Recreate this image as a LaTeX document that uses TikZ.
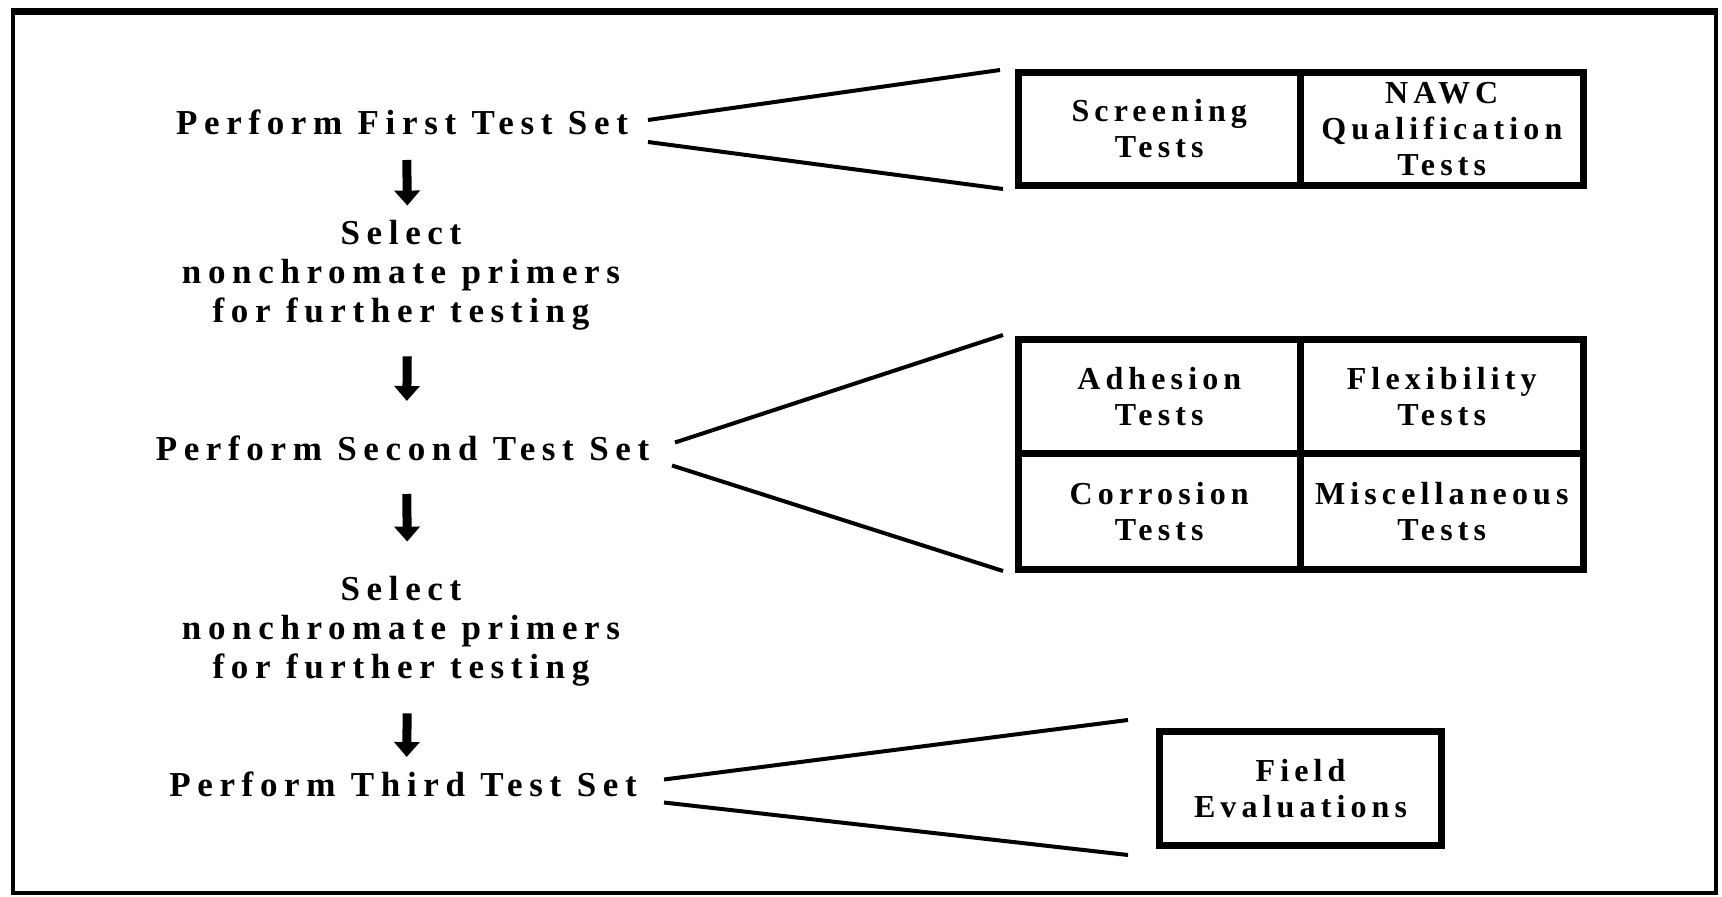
\documentclass[tikz,border=0pt]{standalone}
\usepackage{fontspec}
\setmainfont{Liberation Serif}
\usetikzlibrary{arrows.meta}
\begin{document}
\begin{tikzpicture}[x=0.5pt,y=-0.5pt,
  lefttext/.style={inner sep=0pt,align=center,
    font=\fontsize{17.5pt}{19.5pt}\selectfont\bfseries\addfontfeatures{LetterSpace=19}},
  cell/.style={draw,line width=3.5pt,inner sep=0pt,align=center,
    font=\fontsize{16pt}{18pt}\selectfont\bfseries\addfontfeatures{LetterSpace=16}},
  flowarrow/.style={line width=4.5pt,-{Triangle[width=12.5pt,length=7.5pt]}},
  fan/.style={line width=2pt}
]
\useasboundingbox (0,0) rectangle (1722,897);
% frame
\draw[line width=2pt] (13,11.5) rectangle (1716,893);
\draw[line width=3.5pt] (11,11.5) -- (1718,11.5);

% left column
\node[lefttext,anchor=base] (p1) at (402,135) {Perform First Test Set};
\node[lefttext] (s1) at (401,275) {Select\\nonchromate primers\\for further testing};
\node[lefttext,anchor=base] (p2) at (402.5,460) {Perform Second Test Set};
\node[lefttext] (s2) at (401,631) {Select\\nonchromate primers\\for further testing};
\node[lefttext,anchor=base] (p3) at (403,796) {Perform Third Test Set};

% arrows
\draw[flowarrow,shorten <=12.5pt,shorten >=7pt] ([xshift=2.25pt]p1.base) -- ([xshift=3.25pt]s1.north);
\draw[flowarrow,shorten <=13pt,shorten >=17pt] ([xshift=3.25pt]s1.south) -- ([xshift=2pt]p2.north);
\draw[flowarrow,shorten <=17pt,shorten >=17pt] ([xshift=2pt]p2.base) -- ([xshift=3.25pt]s2.north);
\draw[flowarrow,shorten <=13.5pt,shorten >=7pt] ([xshift=3.25pt]s2.south) -- ([xshift=1.75pt]p3.north);

% box 1
\node[cell,minimum width=140.75pt,minimum height=56.5pt] (c11) at (1159.25,129) {Screening\\Tests};
\node[cell,minimum width=141.75pt,minimum height=56.5pt] (c12) at (1441.75,129) {NAWC\\Qualification\\Tests};
% box 2
\node[cell,minimum width=140.75pt,minimum height=57.25pt] (c21) at (1159.25,396.75) {Adhesion\\Tests};
\node[cell,minimum width=141.75pt,minimum height=57.25pt] (c22) at (1441.75,396.75) {Flexibility\\Tests};
\node[cell,minimum width=140.75pt,minimum height=57.75pt] (c23) at (1159.25,511.75) {Corrosion\\Tests};
\node[cell,minimum width=141.75pt,minimum height=57.75pt] (c24) at (1441.75,511.75) {Miscellaneous\\Tests};
% box 3
\node[cell,minimum width=141pt,minimum height=57pt] (fe) at (1300.5,788.5) {Field\\Evaluations};

% fan lines
\draw[fan] ([shift={(246,-15)}]p1.base) -- ([shift={(-15,1)}]c11.north west);
\draw[fan] ([shift={(246,7)}]p1.base) -- ([shift={(-12,0)}]c11.south west);
\draw[fan] ([shift={(272.5,-17.5)}]p2.base) -- ([shift={(-12,-1)}]c21.north west);
\draw[fan] ([shift={(269.5,5.5)}]p2.base) -- ([shift={(-12,-2)}]c23.south west);
\draw[fan] ([shift={(261,-16.5)}]p3.base) -- ([shift={(-28,-8)}]fe.north west);
\draw[fan] ([shift={(261,6.5)}]p3.base) -- ([shift={(-28,6)}]fe.south west);
\end{tikzpicture}
\end{document}
